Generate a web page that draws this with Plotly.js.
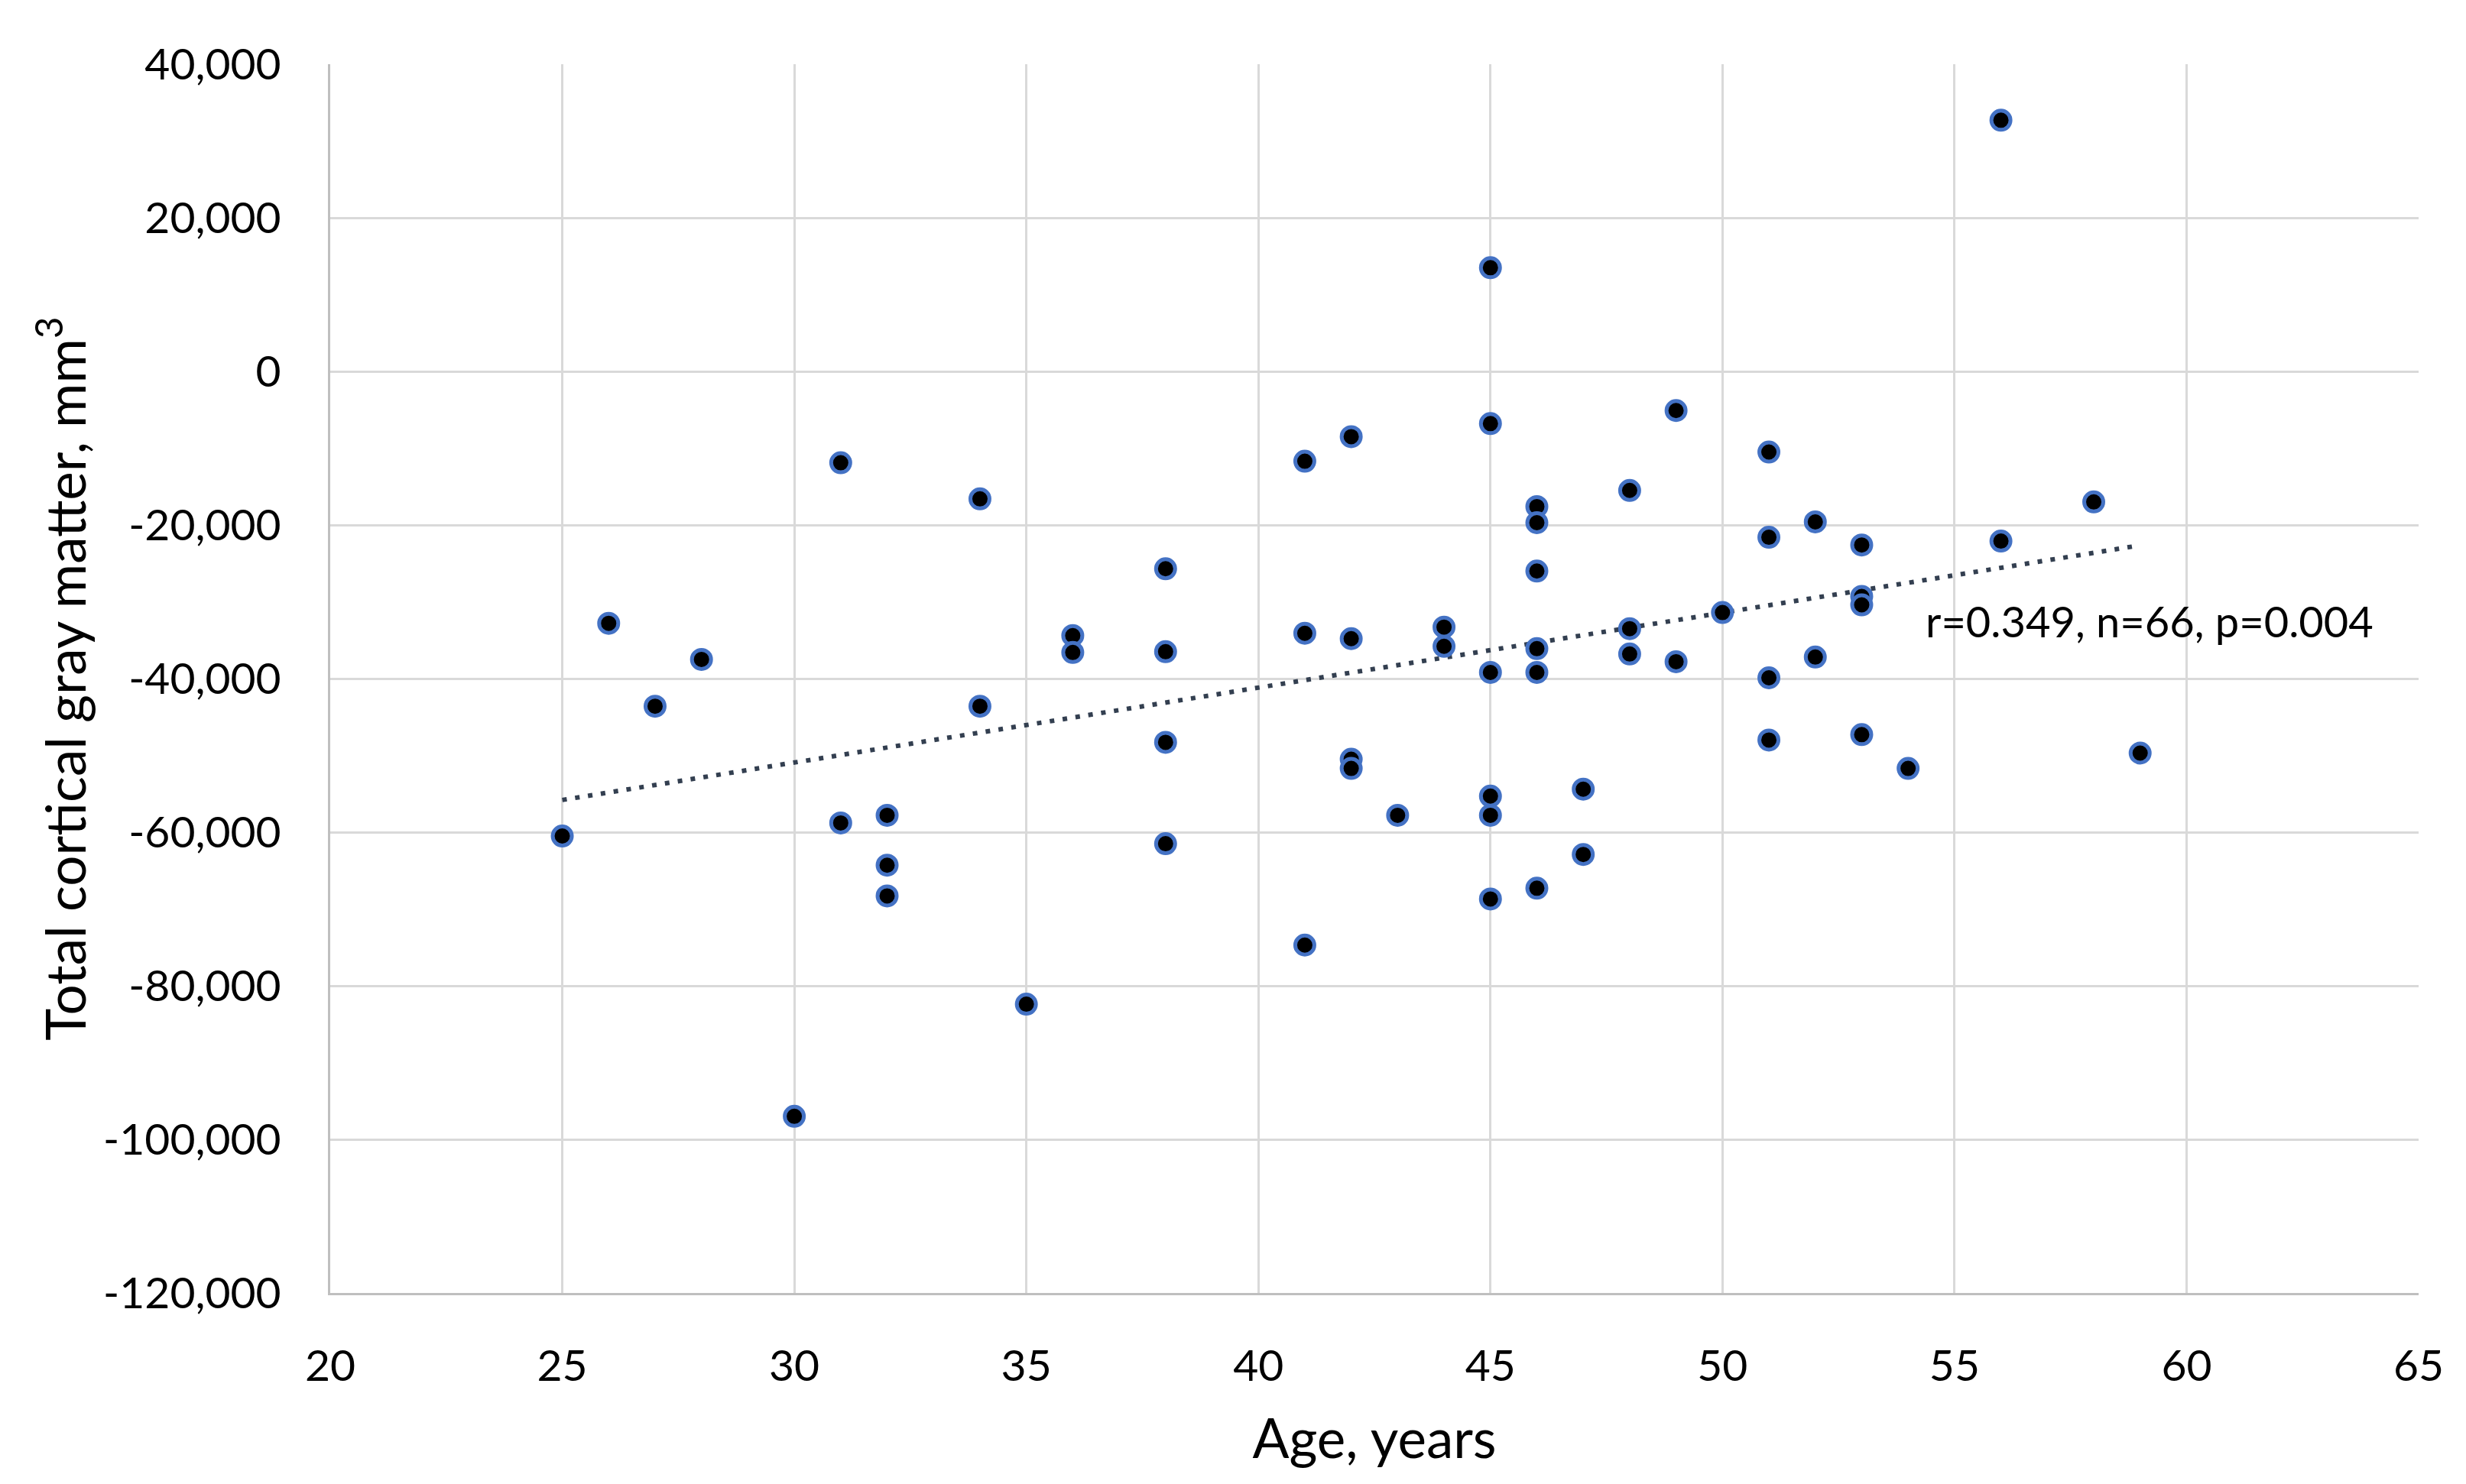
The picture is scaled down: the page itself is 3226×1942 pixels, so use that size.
<!DOCTYPE html>
<html>
<head>
<meta charset="utf-8">
<script src="https://cdn.plot.ly/plotly-3.0.1.min.js"></script>
<style>
  html, body { margin: 0; padding: 0; background: #ffffff; }
  #chart { width: 3226px; height: 1942px; }
</style>
</head>
<body>
<div id="chart"></div>
<script>
// Age (years) of each participant
const ageYears = [
  25, 26, 27, 28, 30,
  31, 31,
  32, 32, 32,
  34, 34,
  35,
  36, 36,
  38, 38, 38, 38,
  41, 41, 41,
  42, 42, 42, 42,
  43,
  44, 44,
  45, 45, 45, 45, 45, 45,
  46, 46, 46, 46, 46, 46,
  47, 47,
  48, 48, 48,
  49, 49,
  50,
  51, 51, 51, 51,
  52, 52,
  53, 53, 53, 53,
  54,
  56, 56,
  58,
  59
];

// Total cortical gray matter change (mm3)
const grayMatter = [
  -60500, -32800, -43600, -37500, -97000,
  -11900, -58800,
  -57800, -64300, -68300,
  -16600, -43600,
  -82400,
  -34400, -36600,
  -25700, -36500, -48300, -61500,
  -11700, -34100, -74700,
  -8500, -34800, -50500, -51700,
  -57800,
  -33300, -35800,
  13500, -6800, -39200, -55300, -57800, -68700,
  -17600, -19700, -26000, -36100, -39200, -67300,
  -54400, -62900,
  -15500, -33500, -36800,
  -5100, -37800,
  -31400,
  -10500, -21600, -39900, -48000,
  -19600, -37200,
  -22600, -29300, -30400, -47300,
  -51700,
  32700, -22100,
  -17000,
  -49700
];

const xTickVals = [20, 25, 30, 35, 40, 45, 50, 55, 60, 65];
const xTickText = ["20", "25", "30", "35", "40", "45", "50", "55", "60", "65"];
const yTickVals = [40000, 20000, 0, -20000, -40000, -60000, -80000, -100000, -120000];
const yTickText = ["40,000", "20,000", "0", "-20,000", "-40,000", "-60,000", "-80,000", "-100,000", "-120,000"];

const statsLabel = "r=0.349, n=66, p=0.004";

// Linear least-squares trend line computed from the data
const n = ageYears.length;
const mx = ageYears.reduce((a, b) => a + b, 0) / n;
const my = grayMatter.reduce((a, b) => a + b, 0) / n;
let sxy = 0, sxx = 0;
for (let i = 0; i < n; i++) {
  sxy += (ageYears[i] - mx) * (grayMatter[i] - my);
  sxx += (ageYears[i] - mx) * (ageYears[i] - mx);
}
const slope = sxy / sxx;
const intercept = my - slope * mx;
const trendX = [Math.min(...ageYears), Math.max(...ageYears)];
const trendY = trendX.map(x => intercept + slope * x);

const FONT = "Lato, 'Liberation Sans', sans-serif";

const traces = [
  {
    type: "scatter",
    mode: "lines",
    x: trendX,
    y: trendY,
    line: { color: "#333F50", width: 6, dash: "6px,11px" },
    hoverinfo: "skip",
    showlegend: false
  },
  {
    type: "scatter",
    mode: "markers",
    x: ageYears,
    y: grayMatter,
    marker: { color: "#000000", size: 25, line: { color: "#4472C4", width: 5 } },
    showlegend: false
  }
];

const layout = {
  width: 3226,
  height: 1942,
  paper_bgcolor: "#ffffff",
  plot_bgcolor: "#ffffff",
  margin: { l: 432, r: 62, t: 84, b: 250, pad: 0 },
  font: { family: FONT, color: "#000000", size: 57 },
  showlegend: false,
  xaxis: {
    range: [20, 65],
    tickvals: xTickVals,
    ticktext: xTickText,
    showgrid: true,
    gridcolor: "#D9D9D9",
    gridwidth: 3,
    zeroline: false,
    showline: true,
    linecolor: "#BFBFBF",
    linewidth: 3,
    ticks: "",
    ticklabelstandoff: 44,
    tickfont: { family: FONT, size: 57, color: "#000000" },
    automargin: false,
    title: { text: "Age, years", font: { family: FONT, size: 71, color: "#000000" }, standoff: 40 }
  },
  yaxis: {
    range: [-120000, 40000],
    tickvals: yTickVals,
    ticktext: yTickText,
    showgrid: true,
    gridcolor: "#D9D9D9",
    gridwidth: 3,
    zeroline: false,
    showline: true,
    linecolor: "#BFBFBF",
    linewidth: 3,
    ticks: "",
    ticklabelstandoff: 50,
    tickfont: { family: FONT, size: 57, color: "#000000" },
    automargin: false,
    title: { text: "Total cortical gray matter, mm<sup>3</sup>", font: { family: FONT, size: 71, color: "#000000" }, standoff: 0 }
  },
  annotations: [
    {
      xref: "x", yref: "y",
      x: 54.35, y: -32500,
      xanchor: "left", yanchor: "middle",
      text: statsLabel,
      showarrow: false,
      font: { family: FONT, size: 56, color: "#000000" }
    }
  ]
};

Plotly.newPlot("chart", traces, layout, { staticPlot: true, displayModeBar: false });
</script>
</body>
</html>
